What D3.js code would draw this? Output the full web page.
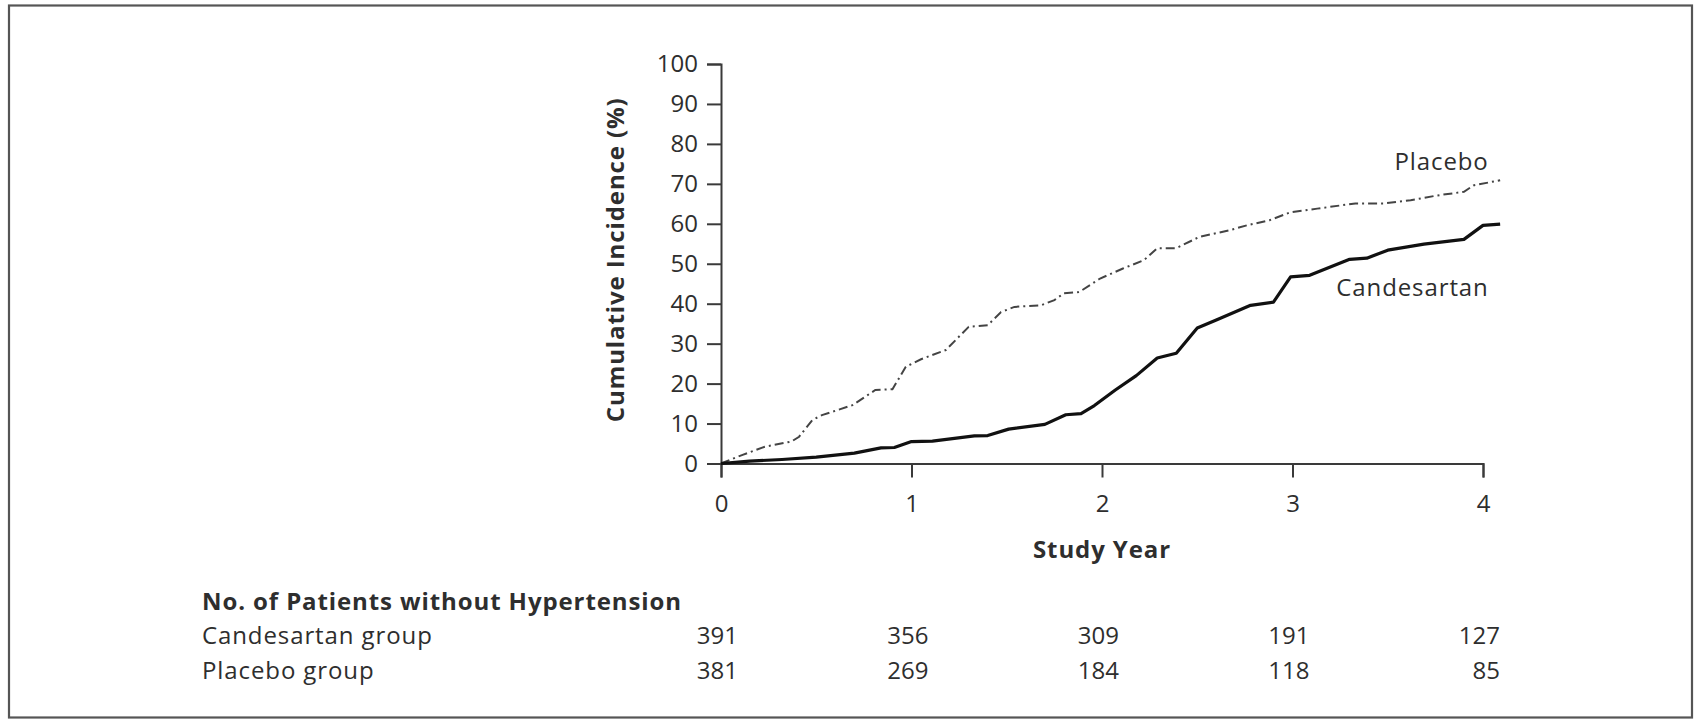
<!DOCTYPE html>
<html>
<head>
<meta charset="utf-8">
<script src="https://cdn.jsdelivr.net/npm/d3@7"></script>
<style>
  html, body { margin: 0; padding: 0; background: #fff; }
  svg { display: block; }
  text { font-family: "Open Sans", "Noto Sans", sans-serif; fill: #2e2e2e; }
</style>
</head>
<body>
<svg id="chart" width="1694" height="720"></svg>
<script>
// ---- Data ----
const xTicks = [0, 1, 2, 3, 4];
const yTicks = [0, 10, 20, 30, 40, 50, 60, 70, 80, 90, 100];

const candesartanYears = [0, 0.15, 0.32, 0.5, 0.70, 0.84, 0.91, 1.0, 1.11, 1.33, 1.40, 1.51, 1.70, 1.81, 1.89, 1.96, 2.07, 2.18, 2.29, 2.39, 2.50, 2.60, 2.78, 2.90, 2.99, 3.09, 3.30, 3.39, 3.50, 3.69, 3.90, 4.00, 4.09];
const candesartanPct   = [0, 0.6, 1.0, 1.6, 2.6, 3.9, 4.0, 5.5, 5.6, 6.9, 7.0, 8.6, 9.8, 12.2, 12.5, 14.5, 18.4, 22.0, 26.4, 27.6, 33.9, 35.9, 39.6, 40.4, 46.7, 47.1, 51.1, 51.4, 53.4, 54.9, 56.1, 59.6, 59.9];

const placeboYears = [0, 0.11, 0.23, 0.37, 0.41, 0.48, 0.53, 0.69, 0.81, 0.90, 0.97, 1.05, 1.18, 1.30, 1.40, 1.47, 1.54, 1.68, 1.75, 1.80, 1.88, 1.99, 2.11, 2.22, 2.29, 2.39, 2.51, 2.67, 2.76, 2.88, 2.99, 3.13, 3.33, 3.48, 3.62, 3.76, 3.90, 3.95, 4.09];
const placeboPct   = [0, 2.1, 4.2, 5.5, 6.7, 10.9, 12.1, 14.6, 18.4, 18.6, 24.2, 26.1, 28.4, 34.2, 34.6, 37.9, 39.2, 39.6, 40.9, 42.6, 42.9, 46.3, 48.8, 50.9, 53.9, 53.9, 56.7, 58.4, 59.6, 60.9, 62.9, 63.8, 65.1, 65.1, 65.9, 67.1, 68.0, 69.6, 70.9];

const riskHeader = "No. of Patients without Hypertension";
const riskGroups = ["Candesartan group", "Placebo group"];
const riskCandesartan = [391, 356, 309, 191, 127];
const riskPlacebo = [381, 269, 184, 118, 85];

const yAxisTitle = "Cumulative Incidence (%)";
const xAxisTitle = "Study Year";
const seriesLabels = ["Placebo", "Candesartan"];

// ---- Drawing ----
const svg = d3.select("#chart");

// frame
svg.append("rect")
  .attr("x", 9).attr("y", 5.5).attr("width", 1683).attr("height", 712)
  .attr("fill", "#fff").attr("stroke", "#555").attr("stroke-width", 2.2);

const x = d3.scaleLinear().domain([0, 4]).range([721, 1483]);
const y = d3.scaleLinear().domain([0, 100]).range([463.5, 64]);

const fontSize = 24;
const ls = "0.9px";

// axes
const xAxis = svg.append("g")
  .attr("transform", `translate(0,${y(0)})`)
  .call(d3.axisBottom(x).tickValues(xTicks).tickFormat(d3.format("d")).tickSize(14).tickPadding(17));
const yAxis = svg.append("g")
  .attr("transform", `translate(${x(0)},0)`)
  .call(d3.axisLeft(y).tickValues(yTicks).tickFormat(d3.format("d")).tickSize(14).tickPadding(9));

[xAxis, yAxis].forEach(g => {
  g.selectAll("path, line").attr("stroke", "#3a3a3a").attr("stroke-width", 2);
  g.selectAll("text").attr("font-size", fontSize).attr("font-family", "Open Sans, Noto Sans, sans-serif").attr("fill", "#2e2e2e");
});

// lines
const line = d3.line().x(d => x(d[0])).y(d => y(d[1]));
const placeboData = placeboYears.map((v, i) => [v, placeboPct[i]]);
const candData = candesartanYears.map((v, i) => [v, candesartanPct[i]]);

svg.append("path").datum(placeboData)
  .attr("d", line).attr("fill", "none")
  .attr("stroke", "#444").attr("stroke-width", 2)
  .attr("stroke-dasharray", "9,4,2,4");

svg.append("path").datum(candData)
  .attr("d", line).attr("fill", "none")
  .attr("stroke", "#111").attr("stroke-width", 3.2)
  .attr("stroke-linejoin", "round");

// series labels
svg.append("text").text(seriesLabels[0])
  .attr("x", x(4.03)).attr("y", y(75.5)).attr("dy", "0.35em")
  .attr("text-anchor", "end").attr("font-size", fontSize).attr("letter-spacing", ls);
svg.append("text").text(seriesLabels[1])
  .attr("x", x(4.03)).attr("y", y(44)).attr("dy", "0.35em")
  .attr("text-anchor", "end").attr("font-size", fontSize).attr("letter-spacing", ls);

// axis titles
svg.append("text").text(yAxisTitle)
  .attr("transform", `translate(616,${(y(0) + y(100)) / 2 - 4}) rotate(-90)`)
  .attr("text-anchor", "middle").attr("dy", "0.35em")
  .attr("font-size", fontSize).attr("font-weight", 700).attr("letter-spacing", ls);

svg.append("text").text(xAxisTitle)
  .attr("x", x(2)).attr("y", 550).attr("dy", "0.35em")
  .attr("text-anchor", "middle")
  .attr("font-size", fontSize).attr("font-weight", 700).attr("letter-spacing", ls);

// risk table
svg.append("text").text(riskHeader)
  .attr("x", 202).attr("y", 602).attr("dy", "0.35em")
  .attr("font-size", fontSize).attr("font-weight", 700).attr("letter-spacing", ls);

const rows = [riskCandesartan, riskPlacebo];
const rowY = [636, 671];
riskGroups.forEach((g, i) => {
  svg.append("text").text(g)
    .attr("x", 202).attr("y", rowY[i]).attr("dy", "0.35em")
    .attr("font-size", fontSize).attr("letter-spacing", ls);
  svg.selectAll(null).data(rows[i]).enter().append("text")
    .text(d => d)
    .attr("x", (d, j) => x(xTicks[j]) + 17)
    .attr("y", rowY[i]).attr("dy", "0.35em")
    .attr("text-anchor", "end")
    .attr("font-size", fontSize);
});
</script>
</body>
</html>
